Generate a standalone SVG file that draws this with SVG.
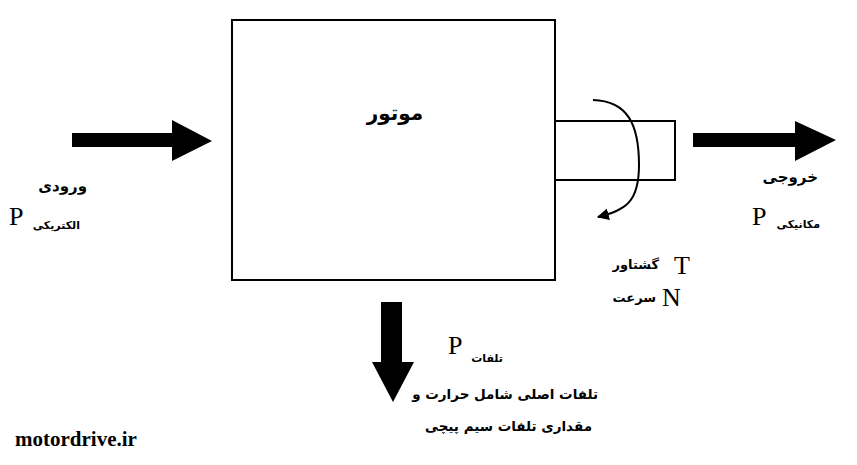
<svg xmlns="http://www.w3.org/2000/svg" width="857" height="465" viewBox="0 0 857 465">
<style>
.box{fill:none;stroke:#000;stroke-width:2}
.fa{font-family:"DejaVu Sans",sans-serif;font-weight:bold;fill:#000}
.lat{font-family:"Liberation Serif",serif;fill:#000}
.arr{fill:#000}
</style>
<defs>
<marker id="ah" viewBox="0 0 10 10" refX="9" refY="5" markerWidth="12" markerHeight="12" markerUnits="userSpaceOnUse" orient="auto">
<path d="M0,0 L10,5 L0,10 z" fill="#000"/>
</marker>
</defs>
<rect width="857" height="465" fill="#fff"/>
<g id="motor">
<rect class="box" x="232" y="20" width="323" height="260"/>
<text class="fa" x="395" y="120" font-size="20" text-anchor="middle">موتور</text>
</g>
<g id="shaft">
<rect class="box" x="555" y="121" width="120" height="59"/>
</g>
<g id="input">
<text class="fa" x="87" y="191" font-size="15" text-anchor="end">ورودی</text>
<text class="lat" x="9" y="225" font-size="26">P</text>
<text class="fa" x="80" y="229" font-size="11" text-anchor="end">الکتریکی</text>
</g>
<g id="output">
<text class="fa" x="818" y="182" font-size="15" text-anchor="end">خروجی</text>
<text class="lat" x="752" y="225" font-size="26">P</text>
<text class="fa" x="820" y="228" font-size="11" text-anchor="end">مکانیکی</text>
</g>
<g id="torque">
<text class="lat" x="674" y="274" font-size="26">T</text>
<text class="fa" x="659" y="269" font-size="13" text-anchor="end">گشتاور</text>
<text class="lat" x="662" y="306" font-size="26">N</text>
<text class="fa" x="656" y="302" font-size="13" text-anchor="end">سرعت</text>
</g>
<g id="losses">
<text class="lat" x="448" y="354" font-size="26">P</text>
<text class="fa" x="503" y="362" font-size="11" text-anchor="end">تلفات</text>
<text class="fa" x="598" y="399" font-size="13.5" text-anchor="end">تلفات اصلی شامل حرارت و</text>
<text class="fa" x="592" y="431" font-size="13.5" text-anchor="end">مقداری تلفات سیم پیچی</text>
</g>
<g id="watermark">
<text class="lat" x="15" y="446" font-size="21" font-weight="bold">motordrive.ir</text>
</g>
<g id="connectors">
<path class="arr" d="M72,133 H172 V120 L212,141 L172,161 V147 H72 z"/>
<path class="arr" d="M693,133 H795 V121 L836,140 L795,161 V147 H693 z"/>
<path class="arr" d="M381,302 H402 V362 H414 L393,402 L372,362 H381 z"/>
<path d="M593,100 C628,101 639,125 639,165 C639,203 625,210 598,217" fill="none" stroke="#000" stroke-width="2" marker-end="url(#ah)"/>
</g>
</svg>
